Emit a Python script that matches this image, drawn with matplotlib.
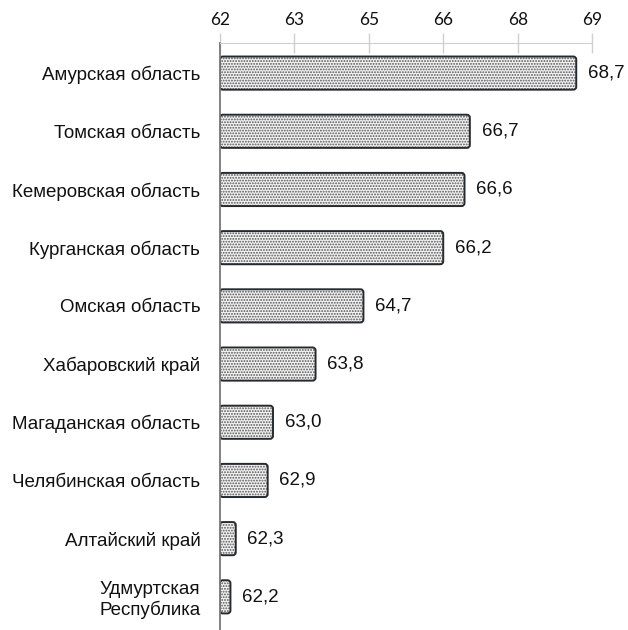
import matplotlib.pyplot as plt
from matplotlib.ticker import FixedLocator, FuncFormatter
from matplotlib.patches import FancyBboxPatch

regions = ['Амурская область', 'Томская область', 'Кемеровская область',
           'Курганская область', 'Омская область', 'Хабаровский край',
           'Магаданская область', 'Челябинская область', 'Алтайский край',
           'Удмуртская\nРеспублика']
values = [68.7, 66.7, 66.6, 66.2, 64.7, 63.8, 63.0, 62.9, 62.3, 62.2]
x_ticks = [62, 63.4, 64.8, 66.2, 67.6, 69]

plt.rcParams['font.family'] = ['Liberation Sans', 'DejaVu Sans']
plt.rcParams['hatch.linewidth'] = 0.9

fig = plt.figure(figsize=(6.28, 6.30), dpi=100)
ax = fig.add_axes([0.350, 0.0, 0.593, 0.932])

base = 62
ypos = range(len(regions))
bars = ax.barh(ypos, [v - base for v in values], left=base, height=0.57)

ax.set_xlim(62, 69)
ax.set_ylim(9.57, -0.52)

# swap the plain rectangles for rounded ones of the same size
px_x = 7 / (0.593 * 628)
px_y = 10.09 / (0.932 * 630)
for b in bars:
    b.set_visible(False)
    geom = dict(xy=(b.get_x(), b.get_y()), width=b.get_width(), height=b.get_height(),
                boxstyle=f'round,pad=0,rounding_size={3 * px_x}',
                mutation_aspect=px_y / px_x)
    # dotted fill
    ax.add_patch(FancyBboxPatch(**geom, facecolor='#f2f2f2', edgecolor='#555555',
                                linewidth=0, hatch='......'))
    # outline
    ax.add_patch(FancyBboxPatch(**geom, facecolor='none', edgecolor='#262b30',
                                linewidth=1.4))

for y, v in zip(ypos, values):
    ax.text(v + 0.22, y, f'{v:.1f}'.replace('.', ','), va='center', ha='left',
            fontsize=13.5, color='#111111')

ax.set_yticks(list(ypos))
ax.set_yticklabels(regions, fontsize=13.5, color='#111111', multialignment='center')
ax.tick_params(axis='y', length=0, pad=14)

ax.xaxis.tick_top()
ax.xaxis.set_major_locator(FixedLocator(x_ticks))
ax.xaxis.set_major_formatter(FuncFormatter(lambda v, p: f'{v:.0f}'))
ax.tick_params(axis='x', direction='inout', length=14, width=1, color='#d0d0d0',
               labelsize=12.5, pad=4, labelcolor='#111111')
for lbl in ax.get_xticklabels():
    lbl.set_family(['Lato', 'DejaVu Sans'])

for s in ['right', 'bottom']:
    ax.spines[s].set_visible(False)
ax.spines['top'].set_color('#d0d0d0')
ax.spines['left'].set_color('#777777')
ax.spines['left'].set_linewidth(1.3)

fig.savefig('out.png', dpi=100)
